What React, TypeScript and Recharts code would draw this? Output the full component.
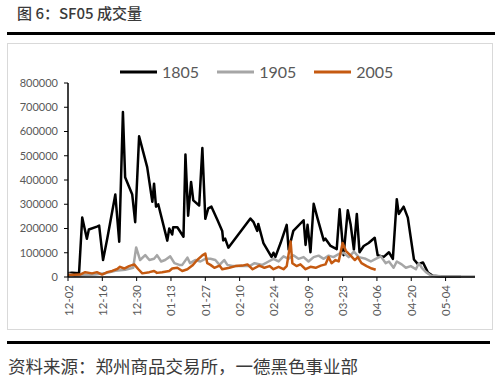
import React from "react";
import { LineChart, Line, XAxis, YAxis, Legend } from "recharts";

// x values are calendar days counted from 12-02
const tickLabels = ["12-02", "12-16", "12-30", "01-13", "01-27", "02-10", "02-24", "03-09", "03-23", "04-06", "04-20", "05-04"];
const yTicks = [0, 100000, 200000, 300000, 400000, 500000, 600000, 700000, 800000];

const days1805 = [0, 1.6, 4.5, 5.8, 7.7, 8.5, 11.8, 12.7, 14.3, 16.0, 19.3, 20.9, 22.4, 23.3, 26.2, 27.4, 29.0, 32.3, 34.4, 35.1, 35.9, 36.8, 40.5, 41.3, 42.5, 42.9, 44.6, 47.1, 47.9, 49.0, 50.2, 51.1, 53.5, 54.8, 56.0, 57.2, 58.5, 61.0, 62.9, 63.3, 64.1, 65.4, 74.4, 75.7, 77.2, 77.6, 79.7, 83.0, 83.8, 84.6, 86.7, 89.2, 90.0, 91.9, 96.1, 96.9, 97.7, 98.9, 100.2, 101.8, 104.3, 105.0, 107.1, 109.6, 110.8, 112.4, 114.1, 115.3, 116.6, 117.8, 118.9, 120.6, 122.6, 125.1, 126.3, 128.8, 130.9, 132.5, 134.1, 134.9, 136.9, 138.6, 141.1, 142.7, 144.8, 146.8, 148.8, 152.1, 156.2, 160.3];
const vol1805 = [15, 18, 15, 245, 158, 196, 208, 212, 70, 158, 340, 145, 680, 411, 340, 226, 580, 453, 310, 385, 290, 300, 150, 200, 175, 205, 205, 166, 505, 253, 392, 316, 295, 532, 240, 283, 290, 234, 190, 151, 158, 121, 241, 226, 190, 219, 140, 83, 100, 83, 140, 215, 113, 190, 234, 132, 215, 102, 302, 241, 151, 158, 128, 115, 279, 90, 275, 215, 113, 260, 102, 128, 140, 162, 90, 83, 102, 75, 321, 260, 290, 245, 72, 53, 60, 18, 5, 2, 1, 1];

const days1905 = [0, 2.9, 7.0, 11.0, 15.1, 19.3, 23.3, 26.6, 27.8, 29.4, 31.5, 33.2, 35.1, 36.3, 38.0, 39.6, 41.7, 43.4, 45.4, 46.6, 48.7, 49.8, 51.9, 54.0, 56.0, 58.1, 60.1, 61.8, 63.7, 65.0, 67.0, 70.3, 74.0, 76.1, 79.3, 81.8, 83.8, 85.9, 87.9, 90.0, 91.9, 94.0, 96.1, 98.1, 100.2, 102.2, 104.3, 106.3, 108.3, 110.4, 112.4, 114.5, 116.6, 118.6, 121.4, 123.5, 125.5, 127.6, 129.6, 130.9, 132.8, 134.1, 136.1, 137.8, 139.8, 141.9, 143.1, 144.3, 146.0, 148.0, 152.1, 158.2, 166];
const vol1905 = [15, 5, 8, 10, 15, 26, 30, 38, 122, 70, 90, 70, 75, 90, 64, 70, 85, 57, 50, 50, 80, 57, 70, 64, 75, 75, 70, 50, 70, 50, 45, 45, 45, 57, 50, 64, 75, 64, 85, 75, 90, 75, 82, 64, 82, 88, 75, 88, 82, 95, 100, 82, 105, 82, 75, 64, 75, 85, 57, 64, 38, 64, 52, 38, 45, 32, 57, 38, 20, 6, 3, 2, 2];

const days2005 = [0, 4.9, 7.0, 9.8, 11.8, 13.9, 16.0, 18.0, 20.1, 21.2, 22.9, 24.9, 27.0, 28.6, 30.3, 33.2, 35.1, 36.3, 38.4, 41.3, 42.5, 44.6, 46.6, 48.7, 50.7, 52.7, 54.8, 56.0, 56.8, 58.1, 59.7, 61.8, 62.9, 65.8, 68.3, 71.1, 73.2, 75.3, 78.0, 80.1, 82.2, 83.8, 85.9, 87.9, 89.2, 90.8, 91.5, 93.2, 94.8, 96.9, 98.9, 101.0, 103.1, 105.0, 106.3, 107.5, 109.1, 110.4, 112.0, 113.3, 115.3, 117.0, 118.2, 119.7, 121.8, 123.9, 125.5];
const vol2005 = [8, 10, 20, 15, 20, 10, 20, 25, 33, 42, 35, 45, 52, 33, 15, 20, 25, 17, 20, 25, 35, 38, 25, 32, 47, 70, 89, 97, 57, 50, 38, 47, 32, 38, 45, 47, 52, 32, 47, 38, 45, 32, 42, 32, 45, 146, 57, 45, 52, 32, 42, 38, 47, 52, 82, 57, 70, 64, 140, 108, 88, 70, 82, 57, 45, 35, 30];

const toRows = (days: number[], vols: number[]) => days.map((d, i) => ({ d, v: vols[i] * 1000 }));

const series = [
  { name: "1805", color: "#000000", rows: toRows(days1805, vol1805) },
  { name: "1905", color: "#a6a6a6", rows: toRows(days1905, vol1905) },
  { name: "2005", color: "#c55a11", rows: toRows(days2005, vol2005) },
];

const tickDays = tickLabels.map((_, i) => i * 14);
const axisFont = "Lato, 'Open Sans', sans-serif";

const XTick = (props: any) => {
  const { x, y, payload } = props;
  const label = tickLabels[Math.round(payload.value / 14)];
  return (
    <text
      x={x}
      y={y}
      transform={`rotate(-90 ${x} ${y})`}
      textAnchor="end"
      dominantBaseline="central"
      fill="#595959"
      fontSize={11.5}
      fontFamily={axisFont}
    >
      {label}
    </text>
  );
};

const LegendBox = () => (
  <div style={{ display: "flex", alignItems: "center", fontFamily: axisFont, fontSize: 16, color: "#595959", lineHeight: "18px" }}>
    {series.map((s) => (
      <div key={s.name} style={{ display: "flex", alignItems: "center", marginRight: 18 }}>
        <svg width={37} height={4}>
          <line x1={0} y1={2} x2={37} y2={2} stroke={s.color} strokeWidth={3} />
        </svg>
        <span style={{ marginLeft: 5 }}>{s.name}</span>
      </div>
    ))}
  </div>
);

export default function App() {
  return (
    <div style={{ position: "fixed", left: 0, top: 0, width: 500, height: 379, background: "#fff", overflow: "hidden" }}>
      <div style={{ position: "absolute", left: 17, top: 2, fontFamily: "'Noto Sans CJK SC', sans-serif", fontSize: 15, fontWeight: 500, color: "#3a3a3a", whiteSpace: "nowrap" }}>
        图 6：SF05 成交量
      </div>
      <div style={{ position: "absolute", left: 7, top: 32, width: 488, height: 3, background: "#000" }} />
      <div style={{ position: "absolute", left: 7, top: 43, width: 486, height: 287, border: "1px solid #d9d9d9", boxSizing: "border-box" }} />
      <div style={{ position: "absolute", left: 0, top: 0 }}>
        <LineChart width={500} height={340} margin={{ top: 65, right: 25, bottom: 13, left: 8 }}>
          <XAxis
            type="number"
            dataKey="d"
            domain={[0, 166]}
            ticks={tickDays}
            allowDataOverflow
            interval={0}
            height={50}
            axisLine={{ stroke: "#000", strokeWidth: 1.5 }}
            tickLine={{ stroke: "#000" }}
            tickSize={4}
            tickMargin={4}
            tick={<XTick />}
          />
          <YAxis
            type="number"
            domain={[0, 800000]}
            ticks={yTicks}
            interval={0}
            width={60}
            axisLine={{ stroke: "#000", strokeWidth: 1.5 }}
            tickLine={{ stroke: "#000" }}
            tickSize={4}
            tickMargin={6}
            tick={{ fill: "#595959", fontSize: 11, fontFamily: axisFont }}
          />
          <Legend content={<LegendBox />} verticalAlign="top" wrapperStyle={{ position: "absolute", left: 120, top: 63, width: "auto" }} />
          {series.map((s) => (
            <Line
              key={s.name}
              data={s.rows}
              dataKey="v"
              name={s.name}
              type="linear"
              stroke={s.color}
              strokeWidth={2.5}
              strokeLinejoin="round"
              dot={false}
              activeDot={false}
              isAnimationActive={false}
            />
          ))}
        </LineChart>
      </div>
      <div style={{ position: "absolute", left: 7, top: 341, width: 483, height: 3, background: "#000" }} />
      <div style={{ position: "absolute", left: 8, top: 355, fontFamily: "'Noto Sans CJK SC', sans-serif", fontSize: 17.5, color: "#3a3a3a", whiteSpace: "nowrap", lineHeight: "22px" }}>
        资料来源：郑州商品交易所，一德黑色事业部
      </div>
    </div>
  );
}
